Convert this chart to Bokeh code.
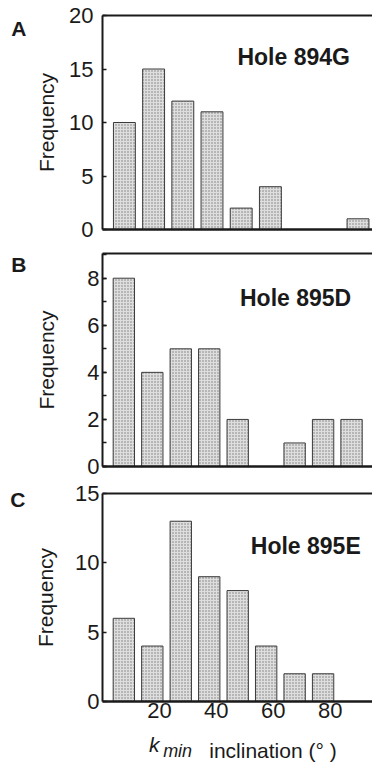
from bokeh.plotting import figure
from bokeh.layouts import column
from bokeh.models import (ColumnDataSource, FixedTicker, SingleIntervalTicker, LinearAxis,
                          Range1d, Label)
from bokeh.embed import file_html
from bokeh.resources import INLINE

# ---- data ----
bin_centers = [7.5, 17.5, 27.5, 37.5, 47.5, 57.5, 67.5, 77.5, 87.5]
freq_894G = [10, 15, 12, 11, 2, 4, 0, 0, 1]
freq_895D = [8, 4, 5, 5, 2, 0, 1, 2, 2]
freq_895E = [6, 4, 13, 9, 8, 4, 2, 2, 0]
x_tick_values = [20, 40, 60, 80]
titles = ["Hole 894G", "Hole 895D", "Hole 895E"]
panel_letters = ["A", "B", "C"]
x_label_parts = ["k", "min", "inclination (° )"]

FONT = "Liberation Sans"
W = 372
INK = "#1a1a1a"


def text_axis(ticks, texts, standoff, size, style):
    """An axis with no line/ticks whose tick labels carry free text outside the frame."""
    return LinearAxis(ticker=FixedTicker(ticks=ticks),
                      major_label_overrides={t: s for t, s in zip(ticks, texts)},
                      axis_line_color=None, major_tick_line_color=None,
                      minor_tick_line_color=None, major_tick_in=0, major_tick_out=0,
                      minor_tick_in=0, minor_tick_out=0, major_label_standoff=standoff,
                      major_label_text_font=FONT, major_label_text_font_style=style,
                      major_label_text_font_size=size, major_label_text_color=INK)


def make_panel(counts, ymax, height, mb_left, mb_top, mb_bottom, yticker,
               lab_standoff, axlab_standoff, show_x, title, title_xy,
               letter, letter_y, minor=False):
    frame_w = W - mb_left
    xmax = frame_w / 2.92
    p = figure(width=W, height=height, output_backend="svg", toolbar_location=None,
               x_range=Range1d(0, xmax), y_range=Range1d(0, ymax),
               min_border_left=mb_left, min_border_right=0,
               min_border_top=mb_top, min_border_bottom=mb_bottom,
               background_fill_color="white", border_fill_color="white")
    p.outline_line_color = None
    p.grid.visible = False

    src = ColumnDataSource(dict(x=[c for c, v in zip(bin_centers, counts) if v > 0],
                                top=[v for v in counts if v > 0]))
    p.vbar(x="x", top="top", bottom=0, width=7.5, source=src,
           fill_color="#dedede", line_color="#3a3a3a", line_width=1,
           hatch_pattern="dot", hatch_color="#7a7a7a", hatch_scale=3, hatch_weight=1)

    ya = p.yaxis[0]
    ya.ticker = yticker
    ya.axis_label = "Frequency"
    ya.axis_label_text_font = FONT
    ya.axis_label_text_font_size = "21px"
    ya.axis_label_text_font_style = "normal"
    ya.axis_label_text_color = INK
    ya.axis_label_standoff = axlab_standoff
    ya.major_label_text_font = FONT
    ya.major_label_text_font_size = "22px"
    ya.major_label_text_color = INK
    ya.major_label_standoff = lab_standoff
    ya.axis_line_width = 2
    ya.axis_line_color = INK
    ya.major_tick_in = 4
    ya.major_tick_out = 0
    ya.major_tick_line_width = 1.5
    ya.major_tick_line_color = INK
    ya.minor_tick_in = 4 if minor else 0
    ya.minor_tick_out = 0
    ya.minor_tick_line_width = 1.5
    ya.minor_tick_line_color = INK if minor else None

    xa = p.xaxis[0]
    xa.axis_line_width = 2.5
    xa.axis_line_color = INK
    xa.major_tick_in = 0
    xa.major_tick_out = 0
    xa.minor_tick_in = 0
    xa.minor_tick_out = 0
    if show_x:
        xa.ticker = FixedTicker(ticks=x_tick_values)
        xa.major_label_text_font = FONT
        xa.major_label_text_font_size = "22px"
        xa.major_label_text_color = INK
        xa.major_label_standoff = 1
    else:
        xa.ticker = FixedTicker(ticks=[])
        xa.major_label_standoff = 0

    # top border of the frame
    top = LinearAxis(ticker=FixedTicker(ticks=[]), axis_line_width=2,
                     axis_line_color=INK, major_tick_in=0, major_tick_out=0,
                     minor_tick_in=0, minor_tick_out=0, major_label_standoff=0)
    p.add_layout(top, "above")

    # panel letter, placed left of the "Frequency" label
    p.add_layout(text_axis([letter_y], [letter], 6, "21px", "bold"), "left")

    p.add_layout(Label(x=title_xy[0], y=title_xy[1], text=title,
                       text_font=FONT, text_font_style="bold", text_font_size="23px",
                       text_color=INK, text_baseline="alphabetic"))
    return p


pA = make_panel(freq_894G, 20, 242, 102, 15, 13,
                FixedTicker(ticks=[0, 5, 10, 15, 20]), 9, 8, False,
                titles[0], (46.2, 16.1), panel_letters[0], 18.8)
pB = make_panel(freq_895D, 9.05, 238, 95, 11, 14,
                SingleIntervalTicker(interval=2, num_minor_ticks=2), 3, 26, False,
                titles[1], (48.3, 7.18), panel_letters[1], 8.6, minor=True)
pC = make_panel(freq_895E, 15, 284, 95, 13, 62,
                FixedTicker(ticks=[0, 5, 10, 15]), 3, 15, True,
                titles[2], (52.1, 11.25), panel_letters[2], 14.6)

# x-axis title of the bottom panel: k_min inclination (° ), built from stacked text axes
pC.add_layout(text_axis([18.2], [x_label_parts[0]], 12, "21px", "italic"), "below")
pC.add_layout(text_axis([26.4], [x_label_parts[1]], -18, "18px", "italic"), "below")
pC.add_layout(text_axis([59.9], [x_label_parts[2]], -25, "21px", "normal"), "below")

layout = column(pA, pB, pC, spacing=0)
open("out.html", "w").write(file_html(layout, INLINE))
